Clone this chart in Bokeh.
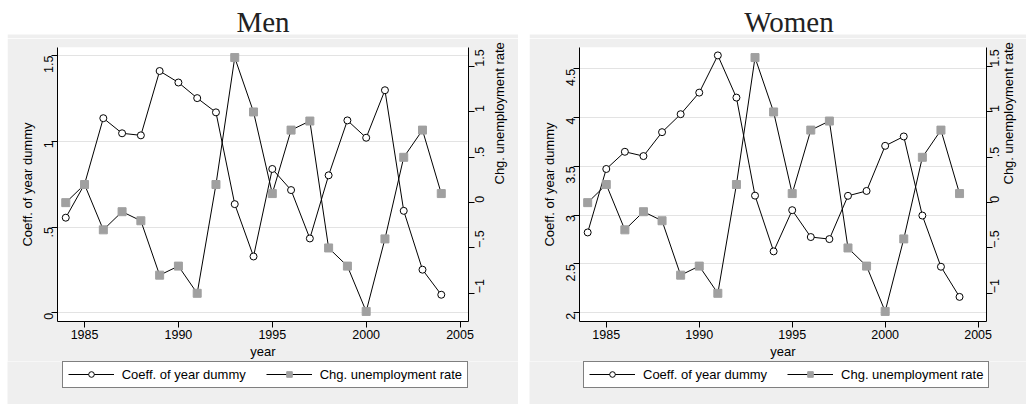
import math
from bokeh.plotting import figure
from bokeh.models import (Range1d, LinearAxis, FixedTicker, Legend, LegendItem, Label, Spacer,
                          Plot, BoxAnnotation)
from bokeh.layouts import row, column
from bokeh.embed import file_html
from bokeh.resources import INLINE

# ---------------- data ----------------
years = list(range(1984, 2005))
men_coef = [0.555, 0.75, 1.135, 1.047, 1.035, 1.41, 1.343, 1.252, 1.169, 0.634, 0.329,
            0.839, 0.716, 0.434, 0.802, 1.122, 1.021, 1.298, 0.595, 0.252, 0.106]
women_coef = [2.823, 3.473, 3.649, 3.605, 3.85, 4.034, 4.255, 4.636, 4.204, 3.2, 2.629,
              3.051, 2.776, 2.755, 3.198, 3.248, 3.71, 3.806, 2.996, 2.472, 2.163]
unemp_change = [0.0, 0.2, -0.3, -0.1, -0.2, -0.8, -0.7, -1.0, 0.2, 1.6, 1.0,
                0.1, 0.8, 0.9, -0.5, -0.7, -1.2, -0.4, 0.5, 0.8, 0.1]

x_ticks = [1985, 1990, 1995, 2000, 2005]
men_left_ticks = [0, 0.5, 1, 1.5]
men_left_labels = ["0", ".5", "1", "1.5"]
women_left_ticks = [2, 2.5, 3, 3.5, 4, 4.5]
women_left_labels = ["2", "2.5", "3", "3.5", "4", "4.5"]
right_ticks = [-1, -0.5, 0, 0.5, 1, 1.5]
right_labels = ["\u22121", "\u2212.5", "0", ".5", "1", "1.5"]
panel_titles = ["Men", "Women"]
series_names = ["Coeff. of year dummy", "Chg. unemployment rate"]
x_label = "year"

SANS = "Liberation Sans"
SERIF = "Liberation Serif"
GRAY_BG = "#efefef"
SQ_COLOR = "#a0a0a0"
UP = math.pi / 2
HAS_FRAME_ALIGN = "frame_align" in Plot.properties()
HAS_LABEL_ORIENT = "axis_label_orientation" in LinearAxis.properties()

TITLE_H = 38     # white title strip (last 4 px painted gray)
MAIN_H = 323
LEGEND_H = 43


def no_align(f):
    if HAS_FRAME_ALIGN:
        f.frame_align = False
    return f


def style_axis(ax):
    ax.axis_line_color = "black"
    ax.axis_line_width = 1
    ax.major_tick_line_color = "black"
    ax.major_tick_out = 6
    ax.major_tick_in = 0
    ax.minor_tick_line_color = None
    ax.major_label_text_font = SANS
    ax.major_label_text_font_size = "12.5px"
    ax.major_label_text_color = "black"
    ax.axis_label_text_font = SANS
    ax.axis_label_text_font_size = "13px"
    ax.axis_label_text_font_style = "normal"
    ax.axis_label_text_color = "black"


def bare_figure(width, height, fill):
    f = figure(width=width, height=height, x_range=Range1d(0, width), y_range=Range1d(0, height),
               title=None, toolbar_location=None, output_backend="svg", min_border=0,
               min_border_left=0, min_border_right=0, min_border_top=0, min_border_bottom=0,
               x_axis_location=None, y_axis_location=None,
               outline_line_color=None, background_fill_color=fill, border_fill_color=fill)
    f.grid.visible = False
    return no_align(f)


def make_panel(title, coef, left_range, left_ticks, left_labels, width,
               border_left, border_right, title_x, legend_x, r_label_sd, r_title_sd):
    # title strip (white, with the top of the gray panel at its bottom)
    tf = bare_figure(width, TITLE_H, "white")
    tf.add_layout(BoxAnnotation(left=0, right=width, bottom=0, top=4,
                                fill_color=GRAY_BG, fill_alpha=1, line_color=None))
    tf.add_layout(Label(x=title_x, y=16.6, text=title, text_font=SERIF,
                        text_font_size="29px", text_align="center",
                        text_baseline="alphabetic", text_color="#222222"))

    # main chart
    p = figure(width=width, height=MAIN_H, title=None,
               x_range=Range1d(1983.56, 2005.45), y_range=Range1d(*left_range),
               toolbar_location=None, output_backend="svg",
               min_border_left=border_left, min_border_right=border_right,
               min_border_top=9, min_border_bottom=39,
               background_fill_color="white", border_fill_color=GRAY_BG,
               outline_line_color=None)
    no_align(p)
    p.extra_y_ranges = {"u": Range1d(-1.311, 1.711)}

    p.xgrid.visible = False
    p.ygrid.ticker = FixedTicker(ticks=left_ticks)
    p.ygrid.grid_line_color = "#e3e3e3"
    p.ygrid.grid_line_width = 1

    xa = p.xaxis[0]
    xa.ticker = FixedTicker(ticks=x_ticks)
    xa.axis_label = x_label
    style_axis(xa)
    xa.major_label_standoff = 2
    xa.axis_label_standoff = 2

    ya = p.yaxis[0]
    ya.ticker = FixedTicker(ticks=left_ticks)
    ya.major_label_overrides = dict(zip(left_ticks, left_labels))
    ya.axis_label = series_names[0]
    style_axis(ya)
    ya.major_label_orientation = UP
    ya.major_label_standoff = 3
    ya.axis_label_standoff = 2

    ra = LinearAxis(y_range_name="u", ticker=FixedTicker(ticks=right_ticks),
                    major_label_overrides=dict(zip(right_ticks, right_labels)),
                    axis_label=series_names[1])
    style_axis(ra)
    ra.major_label_orientation = UP
    ra.major_label_standoff = r_label_sd
    ra.axis_label_standoff = r_title_sd
    if HAS_LABEL_ORIENT:
        ra.axis_label_orientation = UP
        ra.axis_label_text_align = "center"
    p.add_layout(ra, "right")

    p.line(years, coef, line_color="black", line_width=1)
    p.scatter(years, coef, marker="circle", size=7, line_color="black",
              line_width=1, fill_color="white")
    p.line(years, unemp_change, line_color="black", line_width=1, y_range_name="u")
    p.scatter(years, unemp_change, marker="square", size=8, line_color=SQ_COLOR,
              fill_color=SQ_COLOR, y_range_name="u")

    # legend strip (gray); its renderers use the same series, which lie outside
    # this strip's pixel ranges, so only their legend swatches are visible
    lf = bare_figure(width, LEGEND_H, GRAY_BG)
    pl1 = lf.line(years, coef, line_color="black", line_width=1)
    pc1 = lf.scatter(years, coef, marker="circle", size=5, line_color="black",
                     line_width=1, fill_color="white")
    pl2 = lf.line(years, unemp_change, line_color="black", line_width=1)
    ps2 = lf.scatter(years, unemp_change, marker="square", size=6, line_color=SQ_COLOR,
                     fill_color=SQ_COLOR)
    legend = Legend(items=[LegendItem(label=series_names[0], renderers=[pl1, pc1]),
                           LegendItem(label=series_names[1], renderers=[pl2, ps2])],
                    orientation="horizontal", location=(legend_x, 16.3))
    legend.border_line_color = "black"
    legend.border_line_width = 1
    legend.background_fill_color = "white"
    legend.background_fill_alpha = 1
    legend.label_text_font = SANS
    legend.label_text_font_size = "13px"
    legend.label_text_color = "black"
    legend.glyph_width = 46
    legend.glyph_height = 14
    legend.label_standoff = 8
    legend.spacing = 20
    legend.padding = 5
    legend.margin = 0
    lf.add_layout(legend, "center")

    return column(tf, p, lf, spacing=0)


left = make_panel(panel_titles[0], men_coef, (-0.05, 1.547), men_left_ticks, men_left_labels,
                  511, 50, 50, 255.5, 54.7, 5, 8)
right = make_panel(panel_titles[1], women_coef, (1.911, 4.717), women_left_ticks,
                   women_left_labels, 497, 50, 36, 259.5, 54, 2, 2)

layout = row(Spacer(width=7, height=404), left, Spacer(width=11, height=404), right, spacing=0)

open("out.html", "w").write(file_html(layout, INLINE))
